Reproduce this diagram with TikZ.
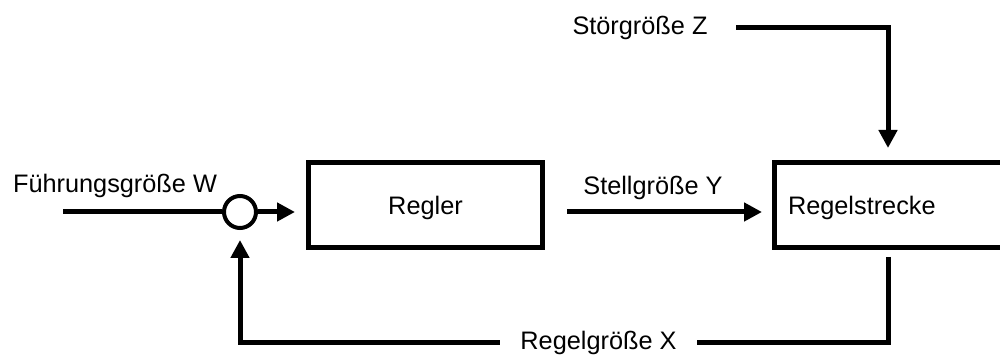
\documentclass[tikz,border=0pt]{standalone}
\usepackage{fontspec}
\setmainfont{Liberation Sans}
\usepackage{tikz}
\usetikzlibrary{positioning,arrows.meta,calc}
\tikzset{
  flow/.style={-{Triangle[length=0.36cm,width=0.36cm]}, line width=0.1cm, draw=black},
  every node/.style={anchor=center}
}

\begin{document}
\begin{tikzpicture}[
    font=\fontsize{14.4}{17}\selectfont,
    block/.style={draw, line width=0.1cm, minimum height=1.7cm, text depth=0pt},
    line/.style={line width=0.1cm, draw=black},
    sumpt/.style={draw, circle, line width=0.08cm, minimum size=0.64cm, inner sep=0pt}
  ]
  \useasboundingbox (0,0) rectangle (20,7.1);
  \clip (0,0) rectangle (20,7.1);

  % blocks
  \node[block, minimum width=4.68cm] (regler) at (8.51,3.0) {Regler};
  \node[block, anchor=west, text width=4.6cm, inner xsep=0.27cm, align=left] (strecke) at (15.44,3.0) {Regelstrecke};
  \node[sumpt] (sum) at (4.8,2.86) {};

  % signal labels
  \node (fuehrung) at (2.3,3.38) {Führungsgröße W};
  \node (stell)    at (13.06,3.34) {Stellgröße Y};
  \node (stoer)    at (12.8,6.54) {Störgröße Z};
  \node[inner xsep=0.41cm] (rgroesse) at (11.97,0.24) {Regelgröße X};

  % free ends
  \coordinate (in)  at (1.26,2.86);
  \coordinate (out) at ([xshift=2.32cm]strecke.south west);
  \coordinate (dist) at ([xshift=2.32cm]strecke.north west);

  % forward path
  \draw[line] (in) -- (sum.west);
  \draw[flow, shorten >=0.22cm] (sum.east) -- (sum.east -| regler.west);
  \draw[flow, shorten <=0.44cm, shorten >=0.2cm] (regler.east |- sum) -- (strecke.west |- sum);

  % disturbance
  \draw[flow, shorten <=0.45cm, shorten >=0.24cm] (stoer.east) -| (dist);

  % feedback loop
  \draw[line, shorten <=0.14cm] (out) |- (rgroesse.east);
  \draw[flow, shorten >=0.2cm] (rgroesse.west) -| (sum.south);

\end{tikzpicture}
\end{document}
